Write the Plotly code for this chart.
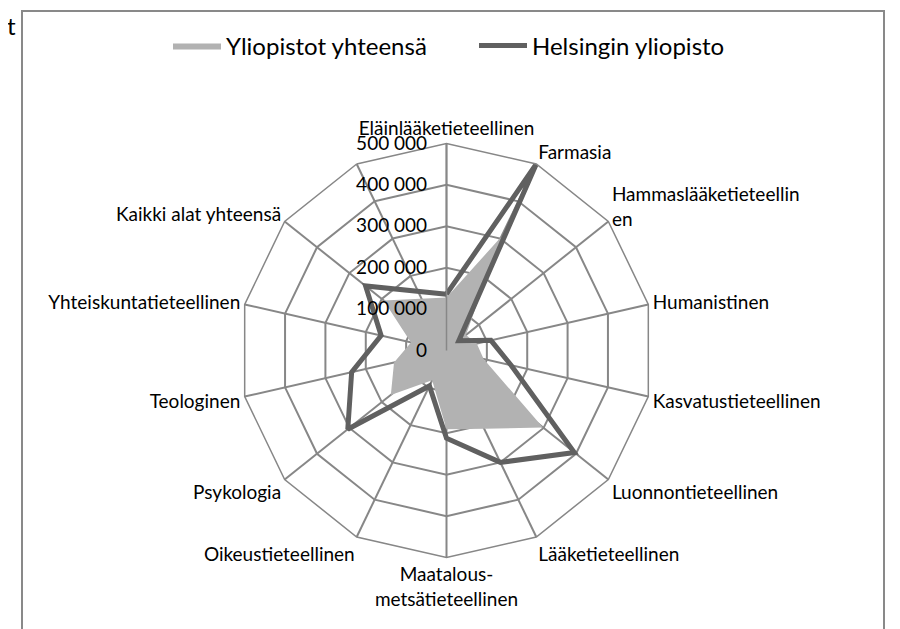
import plotly.graph_objects as go

categories = [
    "Eläinlääketieteellinen", "Farmasia", "Hammaslääketieteellin<br>en",
    "Humanistinen", "Kasvatustieteellinen", "Luonnontieteellinen",
    "Lääketieteellinen", "Maatalous-<br>metsätieteellinen", "Oikeustieteellinen",
    "Psykologia", "Teologinen", "Yhteiskuntatieteellinen", "Kaikki alat yhteensä", " ",
]
# values for the first 13 categories (the 14th category is empty)
yliopistot = [128000, 305000, 60000, 75000, 92000, 298000, 210000, 190000,
              80000, 172000, 130000, 88000, 194000]
helsinki = [136000, 500000, 38000, 110000, 160000, 395000, 300000, 212000,
            95000, 305000, 235000, 162000, 250000]
radial_ticks = [0, 100000, 200000, 300000, 400000, 500000]
radial_ticktext = ["0", "100 000", "200 000", "300 000", "400 000", "500 000"]

W, H = 900, 629
cx, cy, R = 438.5, 342.5, 207
FONT = "Lato"
GRID = "#878787"

theta = categories[:13] + [categories[0]]

fig = go.Figure()
fig.add_trace(go.Scatterpolar(
    r=yliopistot + [yliopistot[0]], theta=theta, mode="lines",
    fill="toself", fillcolor="#b2b2b2", line=dict(color="rgba(0,0,0,0)", width=0),
    name="Yliopistot yhteensä",
))
fig.add_trace(go.Scatterpolar(
    r=helsinki + [helsinki[0]], theta=theta, mode="lines",
    line=dict(color="#606060", width=5),
    name="Helsingin yliopisto",
))

fig.update_layout(
    width=W, height=H,
    margin=dict(l=0, r=0, t=0, b=0),
    paper_bgcolor="white", plot_bgcolor="white",
    font=dict(family=FONT, color="black", size=19),
    polar=dict(
        domain=dict(x=[(cx - R) / W, (cx + R) / W],
                    y=[(H - cy - R) / H, (H - cy + R) / H]),
        gridshape="linear",
        bgcolor="white",
        radialaxis=dict(
            range=[0, 500000], tickvals=radial_ticks, ticktext=radial_ticktext,
            angle=90, tickangle=90, side="counterclockwise",
            showline=True, linecolor=GRID, linewidth=1.5,
            gridcolor=GRID, gridwidth=1.5,
            ticks="outside", ticklen=12, tickcolor="rgba(0,0,0,0)",
            tickfont=dict(size=19, family=FONT, color="black"),
        ),
        angularaxis=dict(
            type="category", categoryorder="array", categoryarray=categories,
            rotation=90, direction="clockwise",
            showline=True, linecolor=GRID, linewidth=1.5,
            gridcolor=GRID, gridwidth=1.5, ticks="",
            tickfont=dict(size=19, family=FONT, color="black"),
        ),
    ),
    showlegend=True,
    legend=dict(orientation="h", x=160 / W, xanchor="left", y=1 - 38 / H, yanchor="middle",
                itemwidth=48, entrywidth=243,
                font=dict(size=24, family=FONT, color="black"), bgcolor="rgba(0,0,0,0)"),
    shapes=[dict(type="rect", xref="paper", yref="paper",
                 x0=14 / W, x1=876 / W, y0=-0.1, y1=1 - 3 / H,
                 line=dict(color="#898989", width=2), fillcolor="rgba(0,0,0,0)", layer="below")],
    annotations=[dict(text="t", xref="paper", yref="paper", x=0, y=1 - 18 / H,
                      xanchor="left", yanchor="middle", showarrow=False, xshift=-3,
                      font=dict(size=24, family=FONT, color="black"))],
)

fig.write_html("out.html")
